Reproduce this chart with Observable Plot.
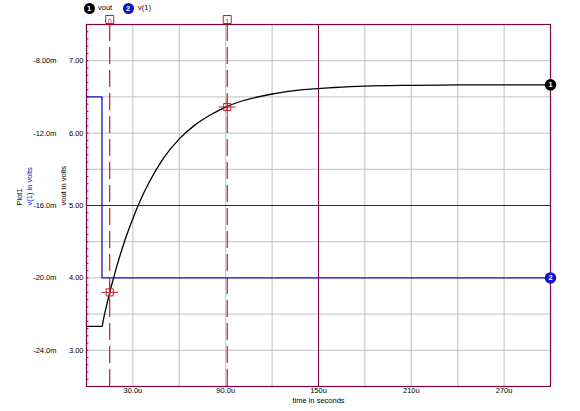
<!DOCTYPE html>
<html>
<head>
<meta charset="utf-8">
<script src="https://cdn.jsdelivr.net/npm/d3@7"></script>
<script src="https://cdn.jsdelivr.net/npm/@observablehq/plot@0.6"></script>
<style>
  html, body { margin: 0; padding: 0; background: #fff; }
  #wrap { position: relative; width: 580px; height: 411px; font-family: "Liberation Sans", Arial, sans-serif; }
  .badge { position: absolute; top: 2.5px; width: 11px; height: 11px; border-radius: 50%; color: #fff; font-weight: bold; font-size: 7.5px; line-height: 11px; text-align: center; }
  .lab { position: absolute; top: 3px; font-size: 7.5px; line-height: 10px; color: #000; }
</style>
</head>
<body>
<div id="wrap">
  <div id="chart"></div>
  <span class="badge" style="left:83.5px; background:#000">1</span><span class="lab" style="left:98px">vout</span>
  <span class="badge" style="left:122.5px; background:#1414c8">2</span><span class="lab" style="left:138px">v(1)</span>
</div>
<script>
// ---- data ----
const voutTime = [0, 10, 11, 12, 13, 15, 17, 20, 25, 30, 35, 40, 50, 60, 70, 80, 90, 100, 120, 140, 160, 180, 210, 240, 270, 300];
const voutVals = [3.33, 3.33, 3.43, 3.53, 3.62, 3.80, 3.96, 4.19, 4.53, 4.82, 5.08, 5.30, 5.66, 5.92, 6.11, 6.25, 6.36, 6.44, 6.54, 6.60, 6.63, 6.65, 6.66, 6.665, 6.667, 6.667];
const v1Time = [0, 10, 10, 300];
const v1Vals = [-0.010, -0.010, -0.020, -0.020];

const xTicks = [30, 90, 150, 210, 270];
const xTickLabels = ["30.0u", "90.0u", "150u", "210u", "270u"];
const yTicks = [3, 4, 5, 6, 7];
const voutTickLabels = ["3.00", "4.00", "5.00", "6.00", "7.00"];
const v1TickLabels = ["-24.0m", "-20.0m", "-16.0m", "-12.0m", "-8.00m"];

const xGrid = [30, 60, 90, 120, 180, 210, 240, 270];
const xDark = [150];
const yGrid = [3, 3.5, 4, 4.5, 5.5, 6, 6.5, 7];
const yDark = [5];
const yMinor = d3.range(26, 75).map(d => d / 10);

const cursorIds = ["0", "1"];
const cursorTimes = [15, 91];
const cursorVals = [3.80, 6.36];

// secondary axis mapping: v(1) volts onto the vout scale
const v1ToY = v => 5 + (v + 0.016) / 0.004;

const vout = voutTime.map((t, i) => ({t, v: voutVals[i]}));
const v1 = v1Time.map((t, i) => ({t, v: v1ToY(v1Vals[i])}));
const cursors = cursorIds.map((id, i) => ({id, t: cursorTimes[i], v: cursorVals[i]}));
const ends = [
  {id: "1", t: 300, v: voutVals[voutVals.length - 1], c: "#000"},
  {id: "2", t: 300, v: v1ToY(v1Vals[v1Vals.length - 1]), c: "#1414c8"}
];

const frameC = "#800040";
const gridC = "#c0c0c0";
const redC = "#c41e2a";
const blueC = "#1414c8";

const chart = Plot.plot({
  width: 580,
  height: 411,
  marginLeft: 86,
  marginRight: 30,
  marginTop: 24,
  marginBottom: 25,
  style: {fontFamily: "Liberation Sans, Arial, sans-serif", fontSize: "7.5px", background: "#fff", overflow: "visible"},
  x: {domain: [0, 300], axis: null},
  y: {domain: [2.5, 7.5], axis: null},
  marks: [
    Plot.ruleX(xGrid, {stroke: gridC, strokeWidth: 1}),
    Plot.ruleY(yGrid, {stroke: gridC, strokeWidth: 1}),
    Plot.ruleY(yMinor, {x1: 0, x2: 1.6, stroke: frameC, strokeWidth: 1}),
    Plot.ruleX(xDark, {stroke: frameC, strokeWidth: 1}),
    Plot.ruleY(yDark, {stroke: frameC, strokeWidth: 1}),
    Plot.line(v1, {x: "t", y: "v", stroke: blueC, strokeWidth: 1.3}),
    Plot.line(vout, {x: "t", y: "v", stroke: "#000", strokeWidth: 1.3, curve: "monotone-x"}),
    Plot.ruleX(cursors, {x: "t", stroke: redC, strokeWidth: 1.2, strokeDasharray: "17,6"}),
    Plot.dot(cursors, {x: "t", y: "v", symbol: "square", r: 4, stroke: redC, strokeWidth: 1, fill: "none"}),
    Plot.dot(cursors, {x: "t", y: "v", symbol: "plus", r: 5.5, stroke: redC, strokeWidth: 1, fill: "none"}),
    Plot.frame({stroke: frameC, strokeWidth: 1.2}),
    Plot.dot(cursors, {x: "t", frameAnchor: "top", dy: -5, symbol: "square", r: 4.5, stroke: redC, strokeWidth: 1, fill: "#fff"}),
    Plot.text(cursors, {x: "t", text: "id", frameAnchor: "top", dy: -5, fill: redC, fontSize: 7}),
    Plot.dot(ends, {x: "t", y: "v", r: 5, fill: "c", stroke: "c"}),
    Plot.text(ends, {x: "t", y: "v", text: "id", fill: "#fff", fontWeight: "bold", fontSize: 7.5}),
    // x tick labels
    Plot.text(xTicks, {x: d => d, text: (d, i) => xTickLabels[i], frameAnchor: "bottom", dy: 6, fill: "#000"}),
    Plot.text(["time in seconds"], {frameAnchor: "bottom", dy: 16, fill: "#000"}),
    // y tick labels (vout)
    Plot.text(yTicks, {y: d => d, text: (d, i) => voutTickLabels[i], frameAnchor: "left", dx: -3, textAnchor: "end", fill: "#000"}),
    // y tick labels (v(1))
    Plot.text(yTicks, {y: d => d, text: (d, i) => v1TickLabels[i], frameAnchor: "left", dx: -30, textAnchor: "end", fill: "#000"}),
    // axis titles
    Plot.text(["vout in volts"], {frameAnchor: "left", dx: -23, rotate: -90, fill: "#000"}),
    Plot.text(["v(1) in volts"], {frameAnchor: "left", dx: -57, rotate: -90, fill: blueC}),
    Plot.text(["Plot1"], {frameAnchor: "left", dx: -67, rotate: -90, fill: "#000"})
  ]
});
document.getElementById("chart").appendChild(chart);
</script>
</body>
</html>
